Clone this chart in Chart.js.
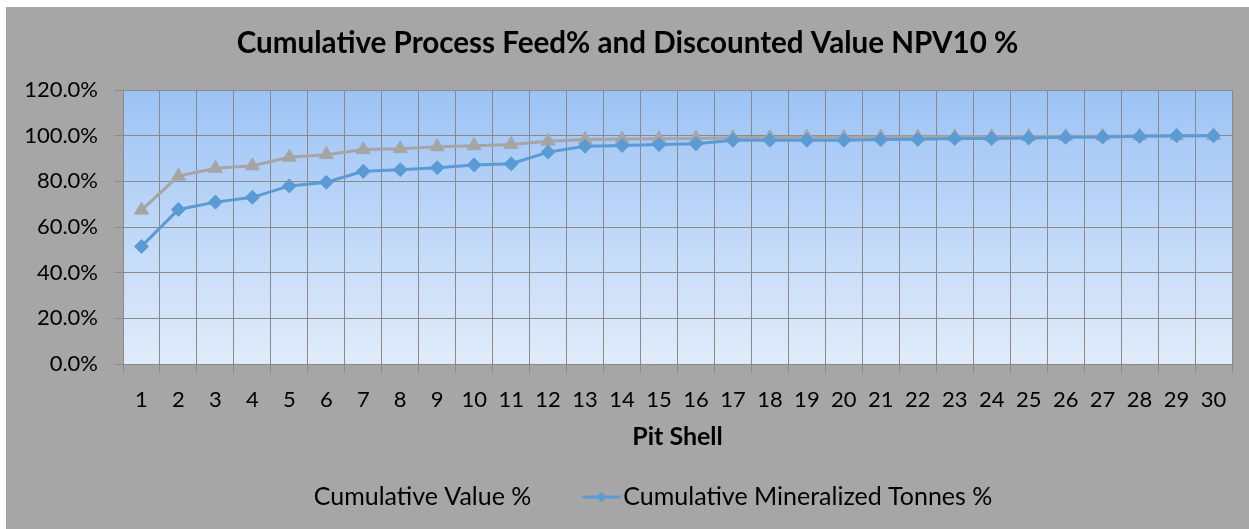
<!DOCTYPE html>
<html>
<head>
<meta charset="utf-8">
<title>Cumulative Process Feed% and Discounted Value NPV10 %</title>
<script src="https://cdn.jsdelivr.net/npm/chart.js@4.4.1/dist/chart.umd.min.js"></script>
<style>
  html, body { margin: 0; padding: 0; background: #ffffff; }
  #frame { position: absolute; left: 6px; top: 7px; width: 1243px; height: 522px; background: #a6a6a6; }
  canvas { display: block; }
</style>
</head>
<body>
<div id="frame"><canvas id="chart" width="1243" height="522"></canvas></div>
<script>
// Pit shells along the x axis
const pitShells = ['1','2','3','4','5','6','7','8','9','10','11','12','13','14','15',
                   '16','17','18','19','20','21','22','23','24','25','26','27','28','29','30'];

// Cumulative discounted value (NPV10), percent of final shell
const cumulativeValuePct = [67.4, 82.3, 85.7, 86.8, 90.6, 91.7, 93.9, 94.3, 95.2, 95.6,
                            96.1, 97.6, 98.3, 98.5, 98.7, 98.8, 99.1, 99.2, 99.3, 99.3,
                            99.4, 99.4, 99.5, 99.5, 99.6, 99.7, 99.8, 99.9, 100.0, 100.0];

// Cumulative mineralized tonnes (process feed), percent of final shell
const cumulativeTonnesPct = [51.5, 67.7, 70.9, 73.0, 78.0, 79.6, 84.4, 85.1, 86.0, 87.2,
                             87.7, 92.8, 95.4, 95.7, 96.1, 96.5, 98.0, 98.0, 98.0, 98.0,
                             98.3, 98.4, 98.8, 98.8, 99.0, 99.3, 99.4, 99.7, 100.0, 100.0];

// Value axis range and tick step (percent)
const yAxisMin = 0;
const yAxisMax = 120;
const yAxisStep = 20;

const FONT = 'Lato, "Open Sans", "Liberation Sans", sans-serif';
const GRID = '#8a8a8a';
const BLUE = '#5b9bd5';
const GREY = '#a5a5a5';

// Legend swatch: a short line with the series marker in its middle
function legendSwatch(color, shape) {
  const c = document.createElement('canvas');
  c.width = 58; c.height = 16;
  const g = c.getContext('2d');
  const y = 8, x0 = 19.75, x1 = 57.75, cx = (x0 + x1) / 2;
  g.strokeStyle = color; g.lineWidth = 3;
  g.beginPath(); g.moveTo(x0, y); g.lineTo(x1, y); g.stroke();
  g.fillStyle = color;
  g.beginPath();
  if (shape === 'diamond') {
    g.moveTo(cx, y - 5); g.lineTo(cx + 5, y); g.lineTo(cx, y + 5); g.lineTo(cx - 5, y);
  } else {
    g.moveTo(cx, y - 5); g.lineTo(cx + 5, y + 4); g.lineTo(cx - 5, y + 4);
  }
  g.closePath(); g.fill();
  return c;
}

// Blue gradient behind the plot area
const plotBackground = {
  id: 'plotBackground',
  beforeDraw(chart) {
    const { ctx, chartArea: a } = chart;
    const grad = ctx.createLinearGradient(0, a.top, 0, a.bottom);
    grad.addColorStop(0, '#9cc3f5');
    grad.addColorStop(1, '#e1ecfa');
    ctx.save();
    ctx.fillStyle = grad;
    ctx.fillRect(a.left, a.top, a.right - a.left, a.bottom - a.top);
    ctx.restore();
  }
};

new Chart(document.getElementById('chart'), {
  type: 'line',
  data: {
    labels: pitShells,
    datasets: [
      {
        label: 'Cumulative Value %',
        data: cumulativeValuePct,
        borderColor: GREY,
        backgroundColor: GREY,
        borderWidth: 3,
        pointStyle: 'triangle',
        pointRadius: 8,
        pointBorderWidth: 1,
        pointBackgroundColor: GREY,
        pointBorderColor: GREY,
        tension: 0,
        order: 2
      },
      {
        label: 'Cumulative Mineralized Tonnes %',
        data: cumulativeTonnesPct,
        borderColor: BLUE,
        backgroundColor: BLUE,
        borderWidth: 3,
        pointStyle: 'rectRot',
        pointRadius: 7,
        pointBorderWidth: 1,
        pointBackgroundColor: BLUE,
        pointBorderColor: BLUE,
        tension: 0,
        order: 1
      }
    ]
  },
  options: {
    responsive: false,
    animation: false,
    devicePixelRatio: 1,
    layout: { padding: { left: 0, right: 0, top: 0, bottom: 9.5 } },
    plugins: {
      title: {
        display: true,
        text: 'Cumulative Process Feed% and Discounted Value NPV10 %',
        color: '#000000',
        font: { family: FONT, size: 29.6, weight: 'bold' },
        padding: { top: 18.2, bottom: 29.3 }
      },
      legend: {
        display: true,
        position: 'bottom',
        labels: {
          color: '#000000',
          font: { family: FONT, size: 25 },
          usePointStyle: true,
          pointStyleWidth: 38.5,
          padding: 41,
          generateLabels(chart) {
            return chart.data.datasets.map((ds, i) => ({
              text: ds.label,
              datasetIndex: i,
              fontColor: '#000000',
              pointStyle: legendSwatch(ds.borderColor, i === 0 ? 'triangle' : 'diamond'),
              fillStyle: ds.borderColor,
              strokeStyle: ds.borderColor,
              lineWidth: 0,
              hidden: false
            }));
          }
        }
      },
      tooltip: { enabled: false }
    },
    scales: {
      x: {
        offset: true,
        grid: { offset: true, color: GRID, lineWidth: 1, tickLength: 9, drawTicks: true },
        border: { color: GRID, width: 1 },
        ticks: {
          color: '#000000',
          font: { family: FONT, size: 22 },
          padding: 13.8,
          maxRotation: 0,
          autoSkip: false
        },
        title: {
          display: true,
          text: 'Pit Shell',
          color: '#000000',
          font: { family: FONT, size: 25, weight: 'bold' },
          padding: { top: 0, bottom: -8.5 }
        },
        afterFit(scale) { scale.height = 79.5; }
      },
      y: {
        min: yAxisMin,
        max: yAxisMax,
        grid: { color: GRID, lineWidth: 1, tickLength: 8 },
        border: { color: GRID, width: 1 },
        ticks: {
          stepSize: yAxisStep,
          color: '#000000',
          font: { family: FONT, size: 22 },
          padding: 17,
          callback: v => v.toFixed(1) + '%'
        },
        afterFit(scale) { scale.width = 117; }
      },
      // empty margin strip on the right of the plot
      yRight: {
        type: 'linear',
        position: 'right',
        display: true,
        grid: { display: false },
        border: { display: false },
        ticks: { display: false },
        afterFit(scale) { scale.width = 17; }
      }
    }
  },
  plugins: [plotBackground]
});
</script>
</body>
</html>
